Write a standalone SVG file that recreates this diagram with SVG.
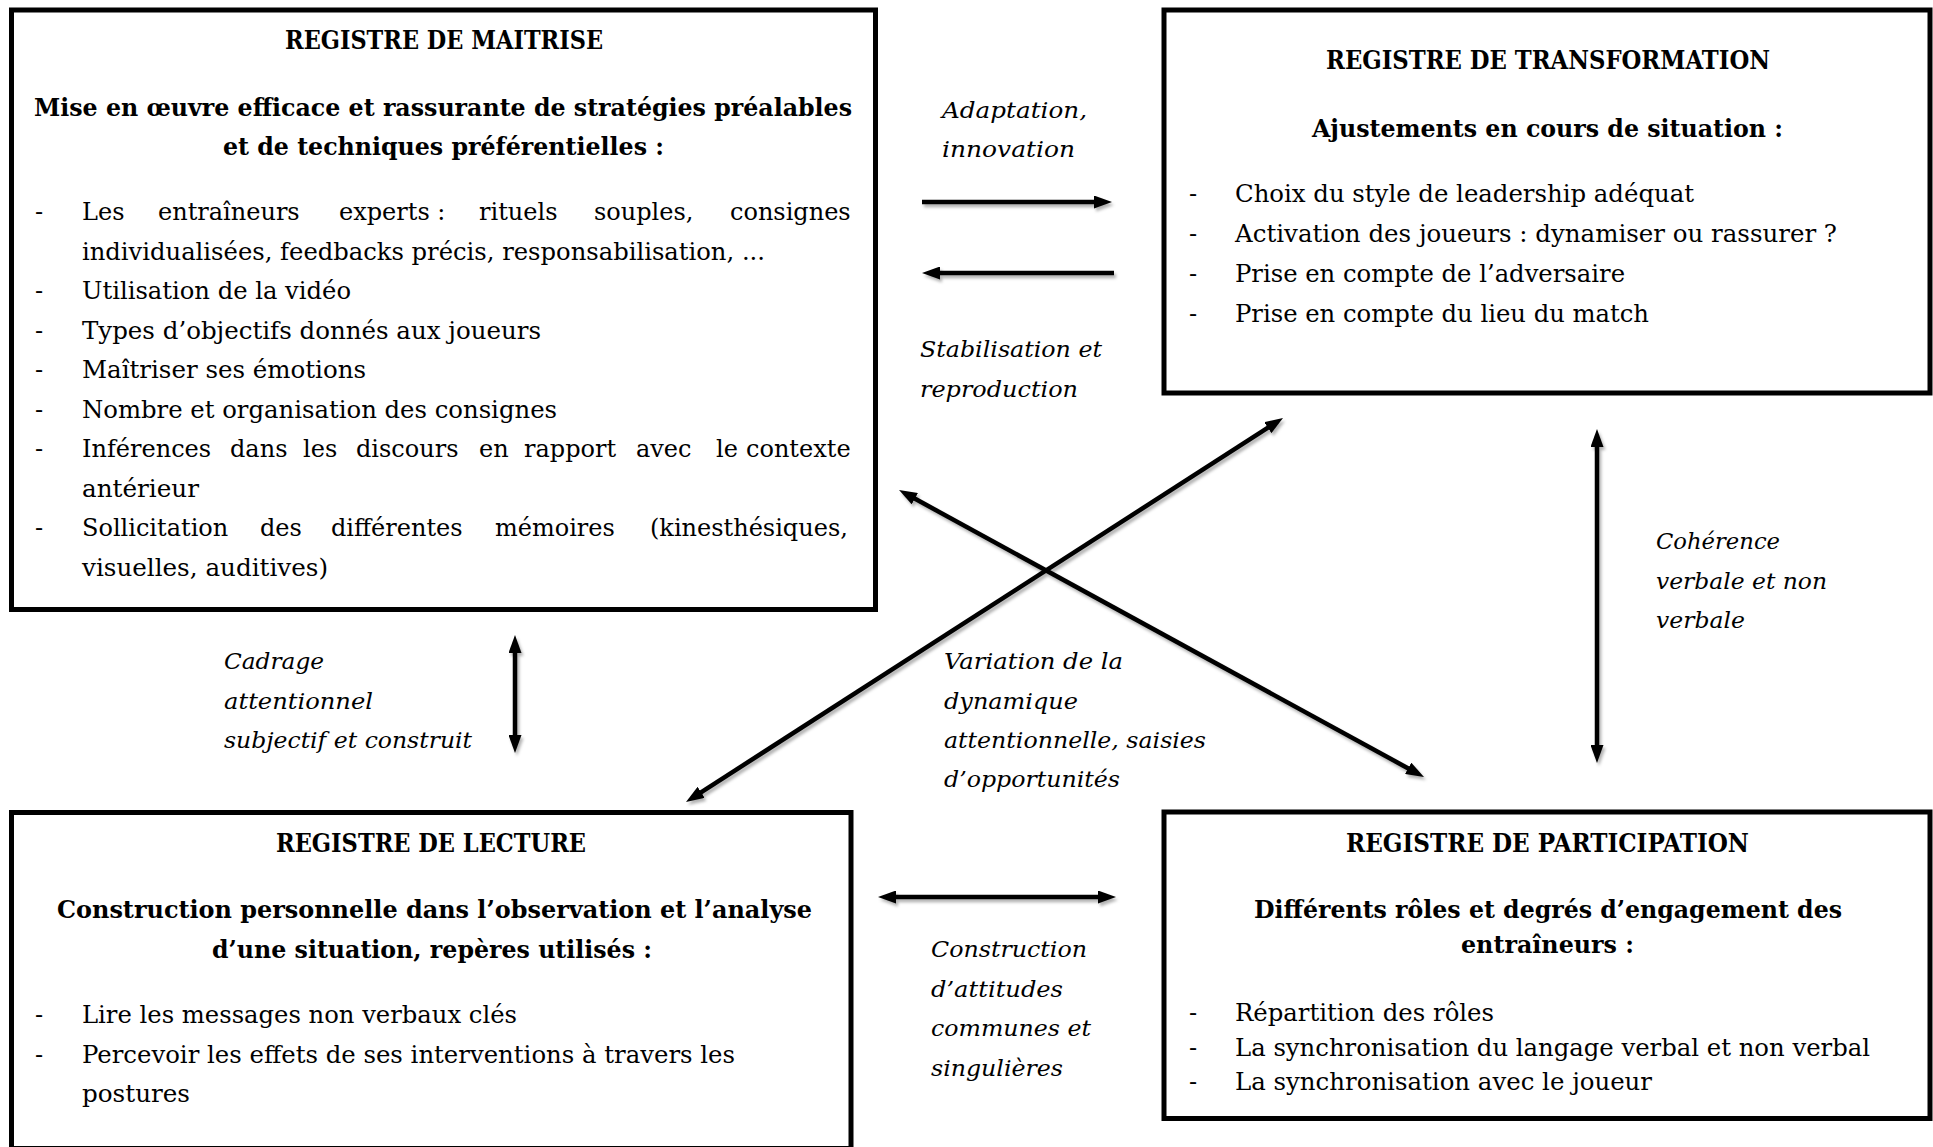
<svg xmlns="http://www.w3.org/2000/svg" width="1933" height="1147" viewBox="0 0 1933 1147">
<defs>
<style>
.box{fill:none;stroke:#000;stroke-width:5}
.t{font-family:"DejaVu Serif","Liberation Serif",serif;font-size:24px;fill:#000}
.h{font-weight:bold;font-size:26px}
.b{font-weight:bold}
.i{font-style:italic;font-size:23px}
.ar{stroke:#000;stroke-width:4.5;fill:none;marker-end:url(#ah)}
.ar2{stroke:#000;stroke-width:4.5;fill:none;marker-start:url(#ah);marker-end:url(#ah)}
</style>
<marker id="ah" viewBox="0 0 18 13" markerWidth="18" markerHeight="13" refX="8" refY="6.5" orient="auto-start-reverse" markerUnits="userSpaceOnUse"><path d="M0,0 L18,6.5 L0,13 z" fill="#000"/></marker>
<filter id="sh" filterUnits="userSpaceOnUse" x="0" y="0" width="1933" height="1147"><feDropShadow dx="2" dy="3" stdDeviation="1.5" flood-color="#000" flood-opacity="0.3"/></filter>
</defs>
<rect width="1933" height="1147" fill="#fff"/>

<g id="maitrise">
<rect class="box" x="11.5" y="10" width="864" height="599.5"/>
<text class="t h" x="285" y="48.5" textLength="318" lengthAdjust="spacingAndGlyphs">REGISTRE DE MAITRISE</text>
<text class="t b" x="34" y="116" textLength="818" lengthAdjust="spacingAndGlyphs">Mise en œuvre efficace et rassurante de stratégies préalables</text>
<text class="t b" x="223" y="155" textLength="441" lengthAdjust="spacingAndGlyphs">et de techniques préférentielles :</text>
<text class="t" x="35" y="220">-</text>
<text class="t" y="220"><tspan x="82">Les</tspan><tspan x="158">entraîneurs</tspan><tspan x="339">experts :</tspan><tspan x="479">rituels</tspan><tspan x="594">souples,</tspan><tspan x="730">consignes</tspan></text>
<text class="t" x="82" y="259.5" textLength="683" lengthAdjust="spacingAndGlyphs">individualisées, feedbacks précis, responsabilisation, ...</text>
<text class="t" x="35" y="299">-</text>
<text class="t" x="82" y="299" textLength="269" lengthAdjust="spacingAndGlyphs">Utilisation de la vidéo</text>
<text class="t" x="35" y="338.5">-</text>
<text class="t" x="82" y="338.5" textLength="459" lengthAdjust="spacingAndGlyphs">Types d’objectifs donnés aux joueurs</text>
<text class="t" x="35" y="378">-</text>
<text class="t" x="82" y="378" textLength="284" lengthAdjust="spacingAndGlyphs">Maîtriser ses émotions</text>
<text class="t" x="35" y="417.5">-</text>
<text class="t" x="82" y="417.5" textLength="475" lengthAdjust="spacingAndGlyphs">Nombre et organisation des consignes</text>
<text class="t" x="35" y="457">-</text>
<text class="t" y="457"><tspan x="82">Inférences</tspan><tspan x="230">dans</tspan><tspan x="303">les</tspan><tspan x="356">discours</tspan><tspan x="479">en</tspan><tspan x="524">rapport</tspan><tspan x="636">avec</tspan><tspan x="716">le</tspan><tspan x="746">contexte</tspan></text>
<text class="t" x="82" y="496.5" textLength="117" lengthAdjust="spacingAndGlyphs">antérieur</text>
<text class="t" x="35" y="536">-</text>
<text class="t" y="536"><tspan x="82">Sollicitation</tspan><tspan x="260">des</tspan><tspan x="331">différentes</tspan><tspan x="495">mémoires</tspan><tspan x="650">(kinesthésiques,</tspan></text>
<text class="t" x="82" y="575.5" textLength="246" lengthAdjust="spacingAndGlyphs">visuelles, auditives)</text>
</g>

<g id="transformation">
<rect class="box" x="1164" y="10" width="766" height="383"/>
<text class="t h" x="1326" y="69" textLength="444" lengthAdjust="spacingAndGlyphs">REGISTRE DE TRANSFORMATION</text>
<text class="t b" x="1312" y="137" textLength="471" lengthAdjust="spacingAndGlyphs">Ajustements en cours de situation :</text>
<text class="t" x="1189" y="202">-</text>
<text class="t" x="1235" y="202" textLength="459" lengthAdjust="spacingAndGlyphs">Choix du style de leadership adéquat</text>
<text class="t" x="1189" y="242">-</text>
<text class="t" x="1235" y="242" textLength="602" lengthAdjust="spacingAndGlyphs">Activation des joueurs : dynamiser ou rassurer ?</text>
<text class="t" x="1189" y="282">-</text>
<text class="t" x="1235" y="282" textLength="390" lengthAdjust="spacingAndGlyphs">Prise en compte de l’adversaire</text>
<text class="t" x="1189" y="322">-</text>
<text class="t" x="1235" y="322" textLength="414" lengthAdjust="spacingAndGlyphs">Prise en compte du lieu du match</text>
</g>

<g id="lecture">
<rect class="box" x="11.5" y="812.5" width="839.5" height="336"/>
<text class="t h" x="276" y="852" textLength="310" lengthAdjust="spacingAndGlyphs">REGISTRE DE LECTURE</text>
<text class="t b" x="57" y="918" textLength="755" lengthAdjust="spacingAndGlyphs">Construction personnelle dans l’observation et l’analyse</text>
<text class="t b" x="212" y="957.5" textLength="440" lengthAdjust="spacingAndGlyphs">d’une situation, repères utilisés :</text>
<text class="t" x="35" y="1023">-</text>
<text class="t" x="82" y="1023" textLength="435" lengthAdjust="spacingAndGlyphs">Lire les messages non verbaux clés</text>
<text class="t" x="35" y="1062.5">-</text>
<text class="t" x="82" y="1062.5" textLength="653" lengthAdjust="spacingAndGlyphs">Percevoir les effets de ses interventions à travers les</text>
<text class="t" x="82" y="1102" textLength="108" lengthAdjust="spacingAndGlyphs">postures</text>
</g>

<g id="participation">
<rect class="box" x="1164" y="812" width="766" height="306.5"/>
<text class="t h" x="1346" y="852" textLength="403" lengthAdjust="spacingAndGlyphs">REGISTRE DE PARTICIPATION</text>
<text class="t b" x="1254" y="918" textLength="588" lengthAdjust="spacingAndGlyphs">Différents rôles et degrés d’engagement des</text>
<text class="t b" x="1461" y="953" textLength="173" lengthAdjust="spacingAndGlyphs">entraîneurs :</text>
<text class="t" x="1189" y="1021">-</text>
<text class="t" x="1235" y="1021" textLength="259" lengthAdjust="spacingAndGlyphs">Répartition des rôles</text>
<text class="t" x="1189" y="1055.5">-</text>
<text class="t" x="1235" y="1055.5" textLength="635" lengthAdjust="spacingAndGlyphs">La synchronisation du langage verbal et non verbal</text>
<text class="t" x="1189" y="1090">-</text>
<text class="t" x="1235" y="1090" textLength="417" lengthAdjust="spacingAndGlyphs">La synchronisation avec le joueur</text>
</g>

<g id="connectors">
<g filter="url(#sh)">
<line class="ar" x1="922" y1="202" x2="1102" y2="202"/>
<line class="ar" x1="1114" y1="273" x2="932" y2="273"/>
<line class="ar2" x1="888" y1="897" x2="1106" y2="897"/>
<line class="ar2" x1="515" y1="645" x2="515" y2="743"/>
<line class="ar2" x1="1597" y1="439" x2="1597" y2="753"/>
<line class="ar2" x1="694.4" y1="796.6" x2="1274.6" y2="423.4"/>
<line class="ar2" x1="907.8" y1="494.8" x2="1415.2" y2="772.2"/>
</g>
<g id="labels">
<text class="t i" x="942" y="118" textLength="145" lengthAdjust="spacingAndGlyphs">Adaptation,</text>
<text class="t i" x="942" y="157" textLength="133" lengthAdjust="spacingAndGlyphs">innovation</text>
<text class="t i" x="920" y="357" textLength="182" lengthAdjust="spacingAndGlyphs">Stabilisation et</text>
<text class="t i" x="920" y="397" textLength="158" lengthAdjust="spacingAndGlyphs">reproduction</text>
<text class="t i" x="224" y="669" textLength="100" lengthAdjust="spacingAndGlyphs">Cadrage</text>
<text class="t i" x="224" y="709" textLength="149" lengthAdjust="spacingAndGlyphs">attentionnel</text>
<text class="t i" x="224" y="748" textLength="248" lengthAdjust="spacingAndGlyphs">subjectif et construit</text>
<text class="t i" x="1656" y="549" textLength="124" lengthAdjust="spacingAndGlyphs">Cohérence</text>
<text class="t i" x="1656" y="589" textLength="171" lengthAdjust="spacingAndGlyphs">verbale et non</text>
<text class="t i" x="1656" y="628" textLength="89" lengthAdjust="spacingAndGlyphs">verbale</text>
<text class="t i" x="944" y="669" textLength="179" lengthAdjust="spacingAndGlyphs">Variation de la</text>
<text class="t i" x="944" y="709" textLength="134" lengthAdjust="spacingAndGlyphs">dynamique</text>
<text class="t i" x="944" y="748" textLength="262" lengthAdjust="spacingAndGlyphs">attentionnelle, saisies</text>
<text class="t i" x="944" y="787" textLength="176" lengthAdjust="spacingAndGlyphs">d’opportunités</text>
<text class="t i" x="931" y="957" textLength="156" lengthAdjust="spacingAndGlyphs">Construction</text>
<text class="t i" x="931" y="997" textLength="132" lengthAdjust="spacingAndGlyphs">d’attitudes</text>
<text class="t i" x="931" y="1036" textLength="160" lengthAdjust="spacingAndGlyphs">communes et</text>
<text class="t i" x="931" y="1076" textLength="132" lengthAdjust="spacingAndGlyphs">singulières</text>
</g>
</g>
</svg>
